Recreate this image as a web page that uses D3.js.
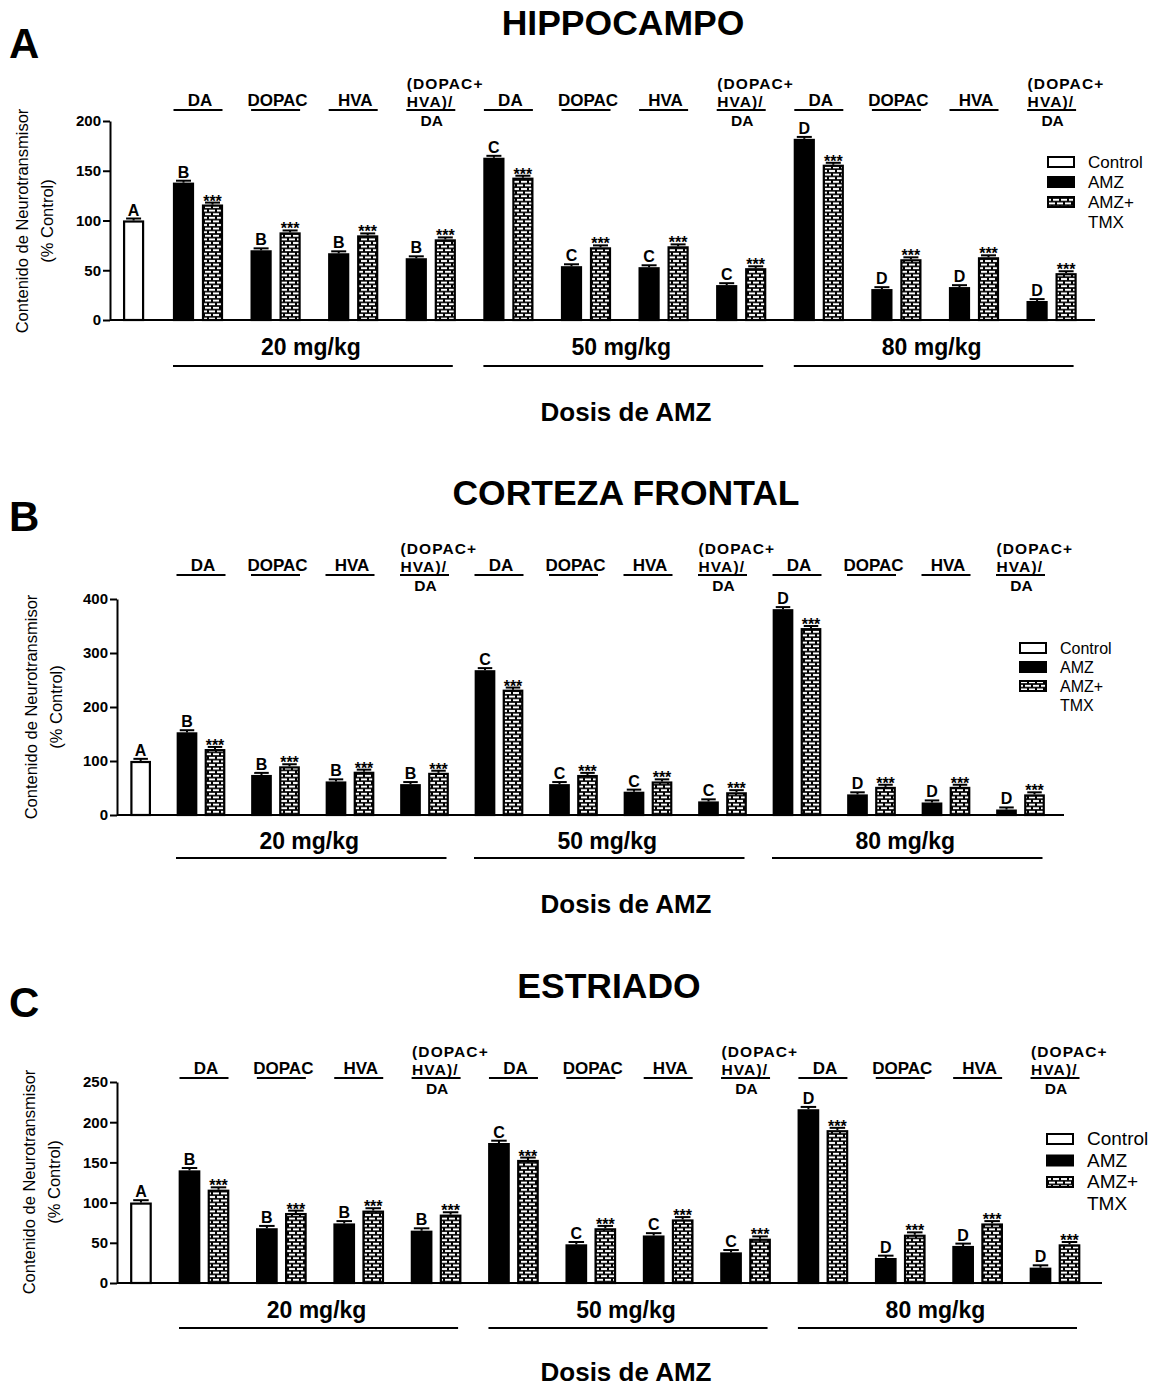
<!DOCTYPE html>
<html lang="es">
<head>
<meta charset="UTF-8">
<title>Contenido de neurotransmisores</title>
<style>
  body { margin: 0; background: #fff; }
  svg { display: block; font-family: "Liberation Sans", Arial, sans-serif; }
</style>
</head>
<body>
<div id="chart"></div>
<script src="https://d3js.org/d3.v7.min.js"></script>
<script>
const width = 1154, height = 1389;

// datos (% del control)
const metabolitos = ["DA", "DOPAC", "HVA", "(DOPAC+HVA)/DA"];
const dosis = ["20 mg/kg", "50 mg/kg", "80 mg/kg"];
const letrasDosis = ["B", "C", "D"];
const leyenda = ["Control", "AMZ", "AMZ+ TMX"];
const control = 100;

const hipAMZ = [138, 70, 67, 62, 163, 54, 53, 35, 182, 31, 33, 19];
const hipTMX = [116, 88, 85, 81, 143, 73, 74, 52, 156, 61, 63, 47];
const cortAMZ = [153, 74, 62, 57, 268, 57, 43, 25, 381, 38, 23, 10];
const cortTMX = [122, 90, 80, 78, 232, 74, 62, 42, 346, 52, 52, 38];
const estAMZ = [140, 68, 74, 65, 174, 48, 59, 38, 216, 31, 46, 19];
const estTMX = [116, 87, 90, 85, 153, 68, 79, 55, 190, 60, 74, 48];

const ticksHip = [0, 50, 100, 150, 200];
const ticksCort = [0, 100, 200, 300, 400];
const ticksEst = [0, 50, 100, 150, 200, 250];
const semHip = 2, semCort = 4, semEst = 3;

// paneles: datos + posiciones
const paneles = [
  { letra: "A", titulo: "HIPPOCAMPO", amz: hipAMZ, tmx: hipTMX, ticks: ticksHip, sem: semHip,
    tituloX: 623, tituloY: 35, letraY: 58, ejeX: 110, y0: 320, y1: 121,
    xIni: 198, xFin: 1051.6, ctrl: -0.83, barW: 21, off: 14.5, xBase: 1095,
    cab: 110, dosisY: 355, lineaY: 366, dosisAMZ: 421, ytitY: 221, ytitX: 28,
    legX: 1047, legY: 162, legPaso: 20, legFont: 17 },
  { letra: "B", titulo: "CORTEZA FRONTAL", amz: cortAMZ, tmx: cortTMX, ticks: ticksCort, sem: semCort,
    tituloX: 626, tituloY: 505, letraY: 531, ejeX: 117, y0: 815, y1: 599,
    xIni: 201, xFin: 1020.5, ctrl: -0.81, barW: 20.5, off: 14, xBase: 1064,
    cab: 575, dosisY: 849, lineaY: 858, dosisAMZ: 913, ytitY: 707, ytitX: 37,
    legX: 1019, legY: 648, legPaso: 19, legFont: 16 },
  { letra: "C", titulo: "ESTRIADO", amz: estAMZ, tmx: estTMX, ticks: ticksEst, sem: semEst,
    tituloX: 609, tituloY: 998, letraY: 1017, ejeX: 117, y0: 1283, y1: 1082,
    xIni: 204, xFin: 1055, ctrl: -0.815, barW: 21.5, off: 14.5, xBase: 1102,
    cab: 1078, dosisY: 1318, lineaY: 1328, dosisAMZ: 1381, ytitY: 1182, ytitX: 35,
    legX: 1046, legY: 1139, legPaso: 21.5, legFont: 19 }
];

const svg = d3.select("#chart").append("svg")
  .attr("width", width)
  .attr("height", height);

// patrón de ladrillos para AMZ+TMX
const pat = svg.append("defs").append("pattern")
  .attr("id", "ladrillo")
  .attr("patternUnits", "userSpaceOnUse")
  .attr("width", 8).attr("height", 7.2);
pat.append("rect").attr("width", 8).attr("height", 7.2).attr("fill", "#000");
pat.append("rect").attr("x", 1).attr("y", 0.8).attr("width", 6).attr("height", 2).attr("fill", "#fff");
pat.append("rect").attr("x", -3).attr("y", 4.4).attr("width", 6).attr("height", 2).attr("fill", "#fff");
pat.append("rect").attr("x", 5).attr("y", 4.4).attr("width", 6).attr("height", 2).attr("fill", "#fff");

paneles.forEach(p => {
  const g = svg.append("g");
  const ymax = d3.max(p.ticks);
  const y = d3.scaleLinear().domain([0, ymax]).range([p.y0, p.y1]);
  const x = d3.scaleLinear().domain([0, 11]).range([p.xIni, p.xFin]);

  const pares = dosis.flatMap((d, i) => metabolitos.map((m, j) => {
    const k = i * 4 + j;
    return { k, dosis: i, met: m, amz: p.amz[k], tmx: p.tmx[k] };
  }));

  // título y letra del panel
  g.append("text").attr("x", p.tituloX).attr("y", p.tituloY)
    .attr("text-anchor", "middle").attr("font-size", 35.5).attr("font-weight", "bold")
    .text(p.titulo);
  g.append("text").attr("x", 9).attr("y", p.letraY)
    .attr("font-size", 42).attr("font-weight", "bold")
    .text(p.letra);

  // eje y
  const eje = g.append("g")
    .attr("transform", `translate(${p.ejeX},0)`)
    .call(d3.axisLeft(y).tickValues(p.ticks).tickSize(7).tickPadding(2).tickSizeOuter(0));
  eje.select(".domain").attr("stroke-width", 2);
  eje.selectAll(".tick line").attr("stroke-width", 2);
  eje.selectAll(".tick text").attr("font-size", 15).attr("font-weight", "bold")
    .attr("font-family", "Liberation Sans, Arial, sans-serif").attr("fill", "#000");

  // línea base
  g.append("line")
    .attr("x1", p.ejeX).attr("x2", p.xBase)
    .attr("y1", y(0)).attr("y2", y(0))
    .attr("stroke", "#000").attr("stroke-width", 2);

  // título eje y
  const yt = g.append("text")
    .attr("transform", `translate(${p.ytitX},${p.ytitY}) rotate(-90)`)
    .attr("text-anchor", "middle").attr("font-size", 16.5);
  yt.append("tspan").attr("x", 0).attr("dy", 0).text("Contenido de Neurotransmisor");
  yt.append("tspan").attr("x", 0).attr("dy", 25).text("(% Control)");

  const barra = (sel, cx, v, fill) => {
    sel.append("rect")
      .attr("x", cx - p.barW / 2 + 1).attr("width", p.barW - 2)
      .attr("y", y(v) + 1).attr("height", y(0) - y(v) - 1)
      .attr("fill", fill).attr("stroke", "#000").attr("stroke-width", 2.2);
    // error estándar
    sel.append("line")
      .attr("x1", cx).attr("x2", cx)
      .attr("y1", y(v)).attr("y2", y(v + p.sem))
      .attr("stroke", "#000").attr("stroke-width", 2);
    sel.append("line")
      .attr("x1", cx - p.barW / 2 + 3).attr("x2", cx + p.barW / 2 - 3)
      .attr("y1", y(v + p.sem)).attr("y2", y(v + p.sem))
      .attr("stroke", "#000").attr("stroke-width", 2);
  };

  // barra control
  const xc = x(p.ctrl);
  barra(g, xc, control, "#fff");
  g.append("text").attr("x", xc).attr("y", y(control + p.sem) - 3)
    .attr("text-anchor", "middle").attr("font-size", 16).attr("font-weight", "bold")
    .text("A");

  // barras AMZ y AMZ+TMX
  const grp = g.selectAll("g.par").data(pares).enter().append("g").attr("class", "par");
  grp.each(function (d) {
    const s = d3.select(this);
    const cx = x(d.k);
    barra(s, cx - p.off, d.amz, "#000");
    barra(s, cx + p.off, d.tmx, "url(#ladrillo)");
    s.append("text").attr("x", cx - p.off).attr("y", y(d.amz + p.sem) - 3)
      .attr("text-anchor", "middle").attr("font-size", 16).attr("font-weight", "bold")
      .text(letrasDosis[d.dosis]);
    s.append("text").attr("x", cx + p.off).attr("y", y(d.tmx + p.sem) + 4)
      .attr("text-anchor", "middle").attr("font-size", 16).attr("font-weight", "bold")
      .text("***");

    // cabecera del metabolito
    s.append("line")
      .attr("x1", cx - 24.5).attr("x2", cx + 24.5)
      .attr("y1", p.cab).attr("y2", p.cab)
      .attr("stroke", "#000").attr("stroke-width", 2);
    if (d.met.includes("/")) {
      const partes = ["(DOPAC+", "HVA)/", "DA"];
      s.append("text").attr("x", cx - 24).attr("y", p.cab - 21)
        .attr("font-size", 15.5).attr("letter-spacing", 1.1).attr("font-weight", "bold").text(partes[0]);
      s.append("text").attr("x", cx - 24).attr("y", p.cab - 3)
        .attr("font-size", 15.5).attr("letter-spacing", 1.1).attr("font-weight", "bold").text(partes[1]);
      s.append("text").attr("x", cx + 1).attr("y", p.cab + 15.5)
        .attr("text-anchor", "middle").attr("font-size", 15.5).attr("font-weight", "bold").text(partes[2]);
    } else {
      s.append("text").attr("x", cx + 2).attr("y", p.cab - 4)
        .attr("text-anchor", "middle").attr("font-size", 17).attr("font-weight", "bold").text(d.met);
    }
  });

  // etiquetas de dosis
  dosis.forEach((d, i) => {
    const a = x(i * 4) - 25, b = x(i * 4 + 3) + 22;
    g.append("text").attr("x", (a + b) / 2 - 2).attr("y", p.dosisY)
      .attr("text-anchor", "middle").attr("font-size", 23).attr("font-weight", "bold").text(d);
    g.append("line").attr("x1", a).attr("x2", b)
      .attr("y1", p.lineaY).attr("y2", p.lineaY)
      .attr("stroke", "#000").attr("stroke-width", 2);
  });

  g.append("text").attr("x", 626).attr("y", p.dosisAMZ)
    .attr("text-anchor", "middle").attr("font-size", 26).attr("font-weight", "bold")
    .text("Dosis de AMZ");

  // leyenda
  const fills = ["#fff", "#000", "url(#ladrillo)"];
  leyenda.forEach((t, i) => {
    const ly = p.legY + i * p.legPaso;
    g.append("rect").attr("x", p.legX + 1).attr("y", ly - 5)
      .attr("width", 26).attr("height", 10)
      .attr("fill", fills[i]).attr("stroke", "#000").attr("stroke-width", 2);
    const lt = g.append("text").attr("x", p.legX + 41).attr("y", ly + 6)
      .attr("font-size", p.legFont);
    t.split(" ").forEach((w, j) => {
      lt.append("tspan").attr("x", p.legX + 41).attr("dy", j ? p.legPaso : 0).text(w);
    });
  });
});
</script>
</body>
</html>
